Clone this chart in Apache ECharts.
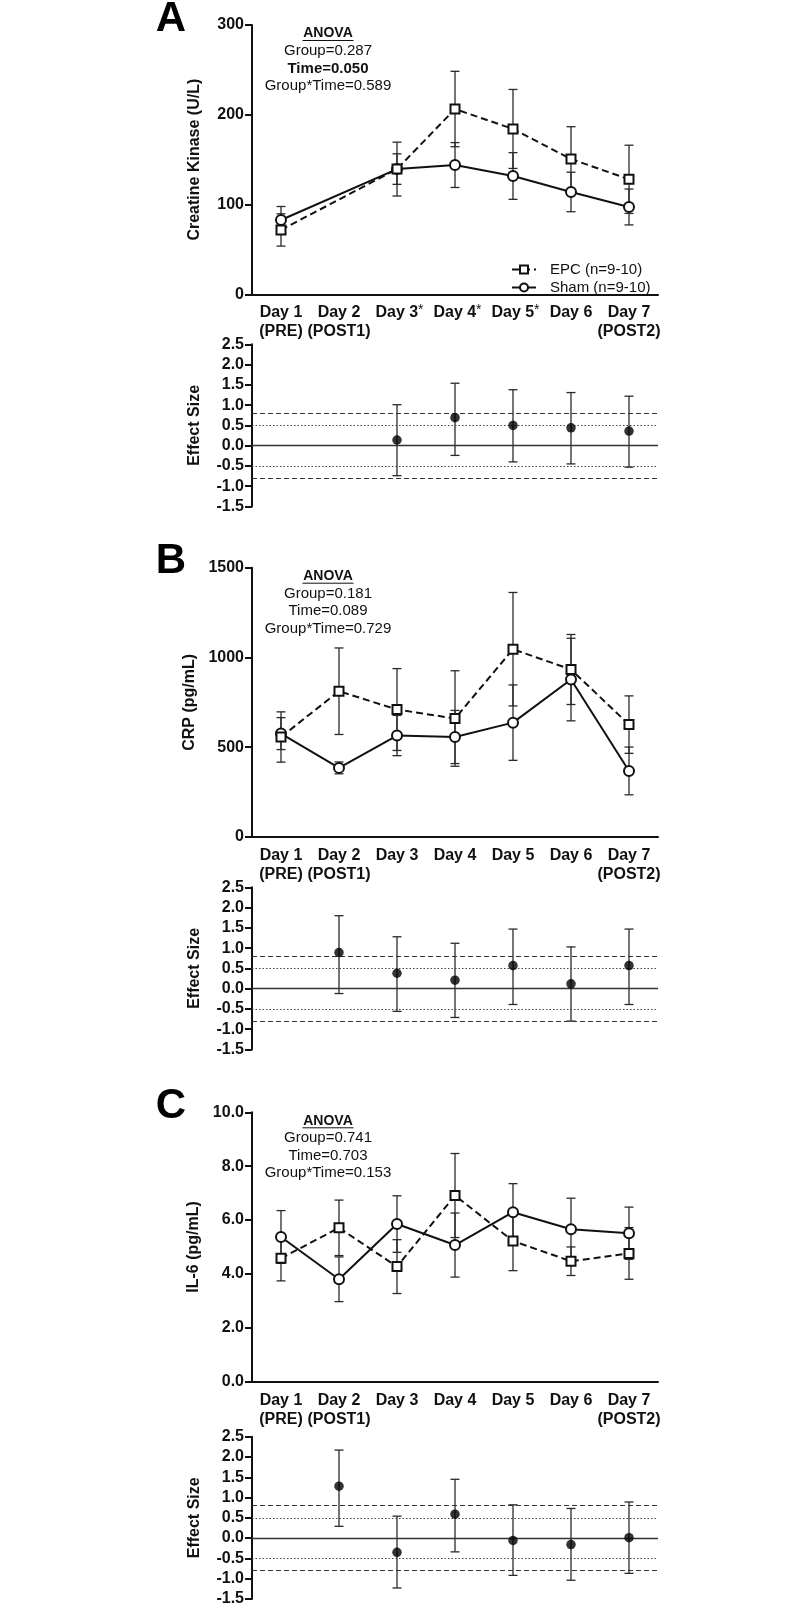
<!DOCTYPE html>
<html><head><meta charset="utf-8">
<script src="https://cdn.jsdelivr.net/npm/echarts@6/dist/echarts.min.js"></script>
<style>html,body{margin:0;padding:0;background:#fff;}#c{width:800px;height:1607px;}</style>
</head><body><div id="c"></div>
<script>
// ---------- data ----------
const days = ['Day 1', 'Day 2', 'Day 3', 'Day 4', 'Day 5', 'Day 6', 'Day 7'];
const subLabels = ['(PRE)', '(POST1)', '', '', '', '', '(POST2)'];
const ckStar = [false, false, true, true, true, false, false];

const ckEpcMean = [71.7, null, 139.5, 206.4, 184.2, 150.7, 128.1];
const ckEpcErr = [18, null, 30, 42, 44, 36, 38];
const ckShamMean = [82.8, null, 139.5, 144, 131.8, 114, 97.3];
const ckShamErr = [15, null, 17, 25, 26, 22, 20];
const ckEffect = [null, null, 0.14, 0.69, 0.50, 0.44, 0.36];
const ckEffectLow = [null, null, -0.74, -0.24, -0.40, -0.45, -0.53];
const ckEffectHigh = [null, null, 1.01, 1.54, 1.38, 1.31, 1.22];

const crpEpcMean = [557, 812, 710, 660, 1046, 933, 626];
const crpEpcErr = [140, 241, 228, 266, 316, 195, 160];
const crpShamMean = [576, 385, 565, 557, 637, 877, 368];
const crpShamErr = [89, 33, 112, 148, 210, 230, 133];
const crpEffect = [null, 0.89, 0.38, 0.21, 0.57, 0.12, 0.57];
const crpEffectLow = [null, -0.12, -0.56, -0.71, -0.39, -0.80, -0.39];
const crpEffectHigh = [null, 1.80, 1.28, 1.12, 1.47, 1.03, 1.47];

const il6EpcMean = [4.58, 5.71, 4.27, 6.91, 5.22, 4.47, 4.76];
const il6EpcErr = [0.84, 1.03, 1.00, 1.56, 1.10, 0.53, 0.96];
const il6ShamMean = [5.37, 3.80, 5.85, 5.07, 6.29, 5.66, 5.51];
const il6ShamErr = [0.98, 0.83, 1.05, 1.19, 1.06, 1.15, 0.97];
const il6Effect = [null, 1.28, -0.35, 0.59, -0.06, -0.16, 0.01];
const il6EffectLow = [null, 0.29, -1.23, -0.34, -0.92, -1.04, -0.87];
const il6EffectHigh = [null, 2.17, 0.54, 1.45, 0.82, 0.73, 0.89];

const panelLetters = ['A', 'B', 'C'];
const yNames = ['Creatine Kinase (U/L)', 'CRP (pg/mL)', 'IL-6 (pg/mL)'];
const yMin = [0, 0, 0];
const yMax = [300, 1500, 10];
const yInterval = [100, 500, 2];
const yDecimals = [0, 0, 1];
const anovaGroup = ['0.287', '0.181', '0.741'];
const anovaTime = ['0.050', '0.089', '0.703'];
const anovaInter = ['0.589', '0.729', '0.153'];
const anovaTimeBold = [true, false, false];
const esMin = -1.5, esMax = 2.5, esInterval = 0.5;
const esThresholdLarge = 0.8;   // dashed
const esThresholdMedium = 0.5;  // dotted
const epcName = 'EPC (n=9-10)';
const shamName = 'Sham (n=9-10)';

const panels = [
  {epc: ckEpcMean, epcErr: ckEpcErr, sham: ckShamMean, shamErr: ckShamErr, es: ckEffect, esLo: ckEffectLow, esHi: ckEffectHigh, star: ckStar},
  {epc: crpEpcMean, epcErr: crpEpcErr, sham: crpShamMean, shamErr: crpShamErr, es: crpEffect, esLo: crpEffectLow, esHi: crpEffectHigh, star: null},
  {epc: il6EpcMean, epcErr: il6EpcErr, sham: il6ShamMean, shamErr: il6ShamErr, es: il6Effect, esLo: il6EffectLow, esHi: il6EffectHigh, star: null}
];

// ---------- layout / style ----------
const FONT = "'Liberation Sans', Arial, sans-serif";
const INK = '#111';
const BAR = '#2a2a2a';
const GL = 252, GW = 406;
const mainTops = [25, 567.7, 1112.3];
const mainH = 269.3;
const esTops = [344.3, 887.3, 1436.7];
const esH = 162.2;

function errRender(capHalf) {
  return function (params, api) {
    const x = api.value(0);
    const lo = api.coord([x, api.value(1)]);
    const hi = api.coord([x, api.value(2)]);
    const st = {stroke: BAR, lineWidth: 1.3};
    return {type: 'group', children: [
      {type: 'line', shape: {x1: lo[0], y1: lo[1], x2: hi[0], y2: hi[1]}, style: st},
      {type: 'line', shape: {x1: lo[0] - capHalf, y1: lo[1], x2: lo[0] + capHalf, y2: lo[1]}, style: st},
      {type: 'line', shape: {x1: hi[0] - capHalf, y1: hi[1], x2: hi[0] + capHalf, y2: hi[1]}, style: st}
    ]};
  };
}
function errData(mean, err) {
  const out = [];
  mean.forEach((m, i) => { if (m != null && err[i] != null) out.push([i, m - err[i], m + err[i]]); });
  return out;
}
function rangeData(lo, hi) {
  const out = [];
  lo.forEach((l, i) => { if (l != null && hi[i] != null) out.push([i, l, hi[i]]); });
  return out;
}

const axisLineStyle = {color: INK, width: 2};
const labelRich = {
  d: {fontFamily: FONT, fontSize: 16, fontWeight: 'bold', color: INK, lineHeight: 19},
  s: {fontFamily: FONT, fontSize: 14, color: INK, lineHeight: 8, verticalAlign: 'top'},
  pad: {width: 5, lineHeight: 19}
};

const grid = [], xAxis = [], yAxis = [], series = [], graphic = [];

panels.forEach((p, k) => {
  grid.push({left: GL, width: GW, top: mainTops[k], height: mainH});
  grid.push({left: GL, width: GW, top: esTops[k], height: esH});
  const gi = 2 * k, ge = 2 * k + 1;

  xAxis.push({
    gridIndex: gi, type: 'category', data: days, boundaryGap: true,
    axisLine: {lineStyle: axisLineStyle},
    axisTick: {alignWithLabel: true, length: 7, lineStyle: axisLineStyle},
    axisLabel: {
      interval: 0, margin: 9, rich: labelRich,
      formatter: (v, i) => {
        const first = (p.star && p.star[i]) ? `{pad| }{d|${v}}{s|*}` : `{d|${v}}`;
        return subLabels[i] ? first + `\n{d|${subLabels[i]}}` : first;
      }
    }
  });
  xAxis.push({gridIndex: ge, type: 'category', data: days, boundaryGap: true, show: false});

  const dec = yDecimals[k];
  yAxis.push({
    gridIndex: gi, type: 'value', min: yMin[k], max: yMax[k], interval: yInterval[k],
    name: yNames[k], nameLocation: 'middle', nameGap: 49,
    nameTextStyle: {fontFamily: FONT, fontSize: 16, fontWeight: 'bold', color: INK},
    axisLine: {show: true, lineStyle: axisLineStyle},
    axisTick: {show: true, length: 7, lineStyle: axisLineStyle},
    axisLabel: {margin: 8, fontFamily: FONT, fontSize: 16, fontWeight: 'bold', color: INK, formatter: v => v.toFixed(dec)},
    splitLine: {show: false}
  });
  yAxis.push({
    gridIndex: ge, type: 'value', min: esMin, max: esMax, interval: esInterval,
    name: 'Effect Size', nameLocation: 'middle', nameGap: 49,
    nameTextStyle: {fontFamily: FONT, fontSize: 16, fontWeight: 'bold', color: INK},
    axisLine: {show: true, onZero: false, lineStyle: axisLineStyle},
    axisTick: {show: true, length: 7, lineStyle: axisLineStyle},
    axisLabel: {margin: 8, fontFamily: FONT, fontSize: 16, fontWeight: 'bold', color: INK, formatter: v => v.toFixed(1)},
    splitLine: {show: false}
  });

  // error bars (behind)
  series.push({type: 'custom', xAxisIndex: gi, yAxisIndex: gi, renderItem: errRender(4.5), encode: {x: 0, y: [1, 2]}, data: errData(p.epc, p.epcErr), z: 2, silent: true});
  series.push({type: 'custom', xAxisIndex: gi, yAxisIndex: gi, renderItem: errRender(4.5), encode: {x: 0, y: [1, 2]}, data: errData(p.sham, p.shamErr), z: 2, silent: true});
  // means
  series.push({
    type: 'line', name: shamName, xAxisIndex: gi, yAxisIndex: gi, data: p.sham, connectNulls: true,
    symbol: 'circle', symbolSize: 10, showAllSymbol: true,
    lineStyle: {color: INK, width: 2, type: 'solid'},
    itemStyle: {color: '#fff', borderColor: INK, borderWidth: 2}, z: 4, animation: false
  });
  series.push({
    type: 'line', name: epcName, xAxisIndex: gi, yAxisIndex: gi, data: p.epc, connectNulls: true,
    symbol: 'rect', symbolSize: 9, showAllSymbol: true,
    lineStyle: {color: INK, width: 2, type: [7, 4]},
    itemStyle: {color: '#fff', borderColor: INK, borderWidth: 2}, z: 5, animation: false
  });

  // effect size
  series.push({type: 'custom', xAxisIndex: ge, yAxisIndex: ge, renderItem: errRender(4.5), encode: {x: 0, y: [1, 2]}, data: rangeData(p.esLo, p.esHi), z: 3, silent: true});
  series.push({
    type: 'scatter', xAxisIndex: ge, yAxisIndex: ge, symbol: 'circle', symbolSize: 9.5,
    data: p.es.map((v, i) => v == null ? null : [i, v]).filter(d => d),
    itemStyle: {color: '#000'}, z: 5, animation: false,
    markLine: {
      silent: true, symbol: 'none', label: {show: false}, animation: false,
      data: [
        {yAxis: 0, lineStyle: {type: 'solid', color: '#333', width: 1.3}},
        {yAxis: esThresholdLarge, lineStyle: {type: [5, 3], color: '#333', width: 1.2}},
        {yAxis: -esThresholdLarge, lineStyle: {type: [5, 3], color: '#333', width: 1.2}},
        {yAxis: esThresholdMedium, lineStyle: {type: [1.5, 2], color: '#444', width: 1.1}},
        {yAxis: -esThresholdMedium, lineStyle: {type: [1.5, 2], color: '#444', width: 1.1}}
      ]
    }
  });

  // annotations
  const t = mainTops[k];
  graphic.push({type: 'text', x: 171, y: t - 6, style: {text: panelLetters[k], font: `bold 42px ${FONT}`, fill: '#000', align: 'center', verticalAlign: 'middle'}});
  const cx = 328;
  graphic.push({type: 'text', x: cx, y: t + 8.5, style: {text: 'ANOVA', font: `bold 14px ${FONT}`, fill: INK, align: 'center', verticalAlign: 'middle'}});
  graphic.push({type: 'line', shape: {x1: cx - 25.5, y1: t + 15.5, x2: cx + 25.5, y2: t + 15.5}, style: {stroke: INK, lineWidth: 1}});
  graphic.push({type: 'text', x: cx, y: t + 26, style: {text: 'Group=' + anovaGroup[k], font: `15px ${FONT}`, fill: INK, align: 'center', verticalAlign: 'middle'}});
  graphic.push({type: 'text', x: cx, y: t + 43.5, style: {text: 'Time=' + anovaTime[k], font: `${anovaTimeBold[k] ? 'bold ' : ''}15px ${FONT}`, fill: INK, align: 'center', verticalAlign: 'middle'}});
  graphic.push({type: 'text', x: cx, y: t + 61, style: {text: 'Group*Time=' + anovaInter[k], font: `15px ${FONT}`, fill: INK, align: 'center', verticalAlign: 'middle'}});
});

const option = {
  backgroundColor: '#fff',
  animation: false,
  grid, xAxis, yAxis, series, graphic,
  legend: {
    data: [epcName, shamName], orient: 'vertical', left: 506, top: 257,
    itemWidth: 24, itemHeight: 10, itemGap: 3, selectedMode: false,
    textStyle: {fontFamily: FONT, fontSize: 15, color: INK, padding: [0, 0, 0, 9]}
  }
};
const chart = echarts.init(document.getElementById('c'), null, {renderer: 'canvas'});
chart.setOption(option);
</script></body></html>
